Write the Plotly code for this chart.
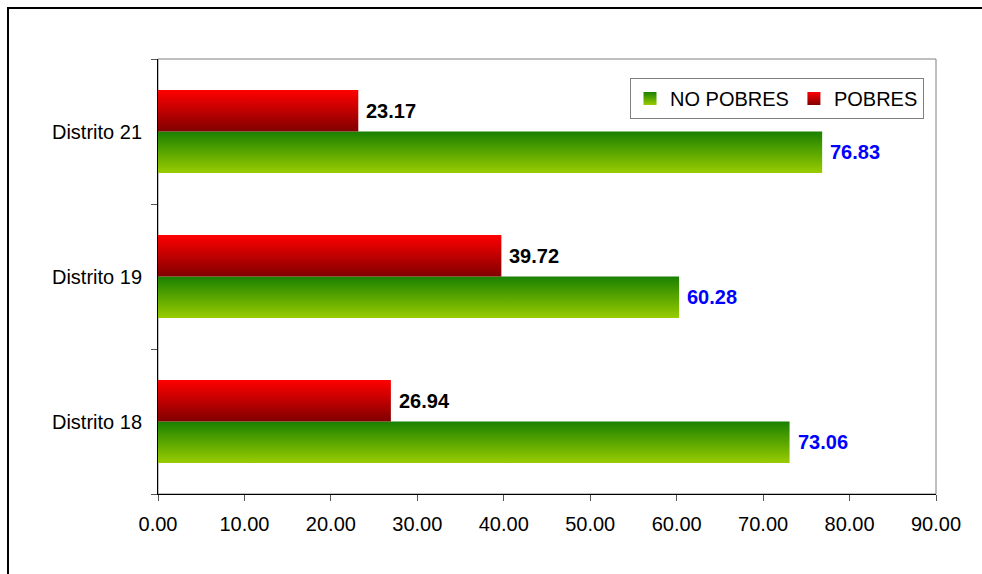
import plotly.graph_objects as go

# Distritos (bottom to top) and the share of households in each group (%)
distritos = ["Distrito 18", "Distrito 19", "Distrito 21"]
no_pobres = [73.06, 60.28, 76.83]
pobres = [26.94, 39.72, 23.17]
x_ticks = [0, 10, 20, 30, 40, 50, 60, 70, 80, 90]

BAR_H = 0.286  # thickness of one bar, in category units
FONT = "Liberation Sans, Arial, sans-serif"

GREEN_TOP, GREEN_BOTTOM = "#1A8000", "#99CC00"
RED_TOP, RED_BOTTOM = "#FF0000", "#800000"

W, H = 982, 574
L, R, T, B = 158, 46, 59, 80
plot_w, plot_h = W - L - R, H - T - B


def add_bars(fig, values, lo, hi, top, bottom, group):
    """One filled rectangle per value, from 0 to the value, shaded top to bottom."""
    for i, v in enumerate(values):
        fig.add_trace(go.Scatter(
            x=[0, v, v, 0, 0], y=[i + lo, i + lo, i + hi, i + hi, i + lo],
            mode="lines", fill="toself", line=dict(width=0),
            legendgroup=group, showlegend=False, hoverinfo="skip",
            fillgradient=dict(type="vertical",
                              colorscale=[[0, bottom], [1, top]]),
        ))


def add_legend_entry(fig, name, top, bottom):
    fig.add_trace(go.Scatter(
        x=[None], y=[None], mode="markers", name=name, legendgroup=name,
        marker=dict(symbol="square", size=13, color=top, line=dict(width=0),
                    gradient=dict(type="vertical", color=bottom)),
    ))


fig = go.Figure()

add_bars(fig, no_pobres, -BAR_H, 0, GREEN_TOP, GREEN_BOTTOM, "NO POBRES")
add_bars(fig, pobres, 0, BAR_H, RED_TOP, RED_BOTTOM, "POBRES")
add_legend_entry(fig, "NO POBRES", GREEN_TOP, GREEN_BOTTOM)
add_legend_entry(fig, "POBRES", RED_TOP, RED_BOTTOM)

# value labels just past the bar ends
for i, v in enumerate(no_pobres):
    fig.add_annotation(x=v, y=i - BAR_H / 2, text=f"{v:.2f}", showarrow=False,
                       xanchor="left", xshift=6,
                       font=dict(family=FONT, size=20, color="#0000FF",
                                 weight="bold"))
for i, v in enumerate(pobres):
    fig.add_annotation(x=v, y=i + BAR_H / 2, text=f"{v:.2f}", showarrow=False,
                       xanchor="left", xshift=6,
                       font=dict(family=FONT, size=20, color="#000000",
                                 weight="bold"))

# gray frame on top/right of the plot area
fig.add_shape(type="rect", xref="paper", yref="paper", x0=0, x1=1, y0=0, y1=1,
              line=dict(color="#808080", width=1), layer="below")

# outer chart frame
fig.add_shape(type="rect", xref="paper", yref="paper",
              x0=(8 - L) / plot_w, x1=(W + 10 - L) / plot_w,
              y0=-(B + 10) / plot_h, y1=(H - B - 8) / plot_h,
              line=dict(color="#000000", width=2))

fig.update_layout(
    width=W, height=H,
    margin=dict(l=L, r=R, t=T, b=B),
    paper_bgcolor="white", plot_bgcolor="white",
    font=dict(family=FONT, size=20, color="#000000"),
    showlegend=True,
    legend=dict(
        orientation="h", x=(630 - L) / plot_w, y=(H - B - 78) / plot_h,
        xanchor="left", yanchor="top",
        bgcolor="white", bordercolor="#808080", borderwidth=1,
        font=dict(family=FONT, size=20, color="#000000"),
        itemwidth=30, tracegroupgap=0,
    ),
    xaxis=dict(
        range=[0, 90], tickvals=x_ticks, tickformat=".2f",
        showgrid=False, zeroline=False,
        showline=True, linecolor="#000000", linewidth=1,
        ticks="outside", ticklen=6, tickcolor="#555555",
        ticklabelstandoff=6,
        tickfont=dict(family=FONT, size=20, color="#000000"),
    ),
    yaxis=dict(
        range=[-0.5, len(distritos) - 0.5],
        tickvals=list(range(len(distritos))), ticktext=distritos,
        ticks="", showgrid=False, zeroline=False,
        showline=True, linecolor="#000000", linewidth=1,
        ticklabelstandoff=11,
        tickfont=dict(family=FONT, size=20, color="#000000"),
        minor=dict(tickvals=[i - 0.5 for i in range(len(distritos) + 1)],
                   ticks="outside", ticklen=6, tickcolor="#555555",
                   showgrid=False),
    ),
)

fig.write_html("out.html")
